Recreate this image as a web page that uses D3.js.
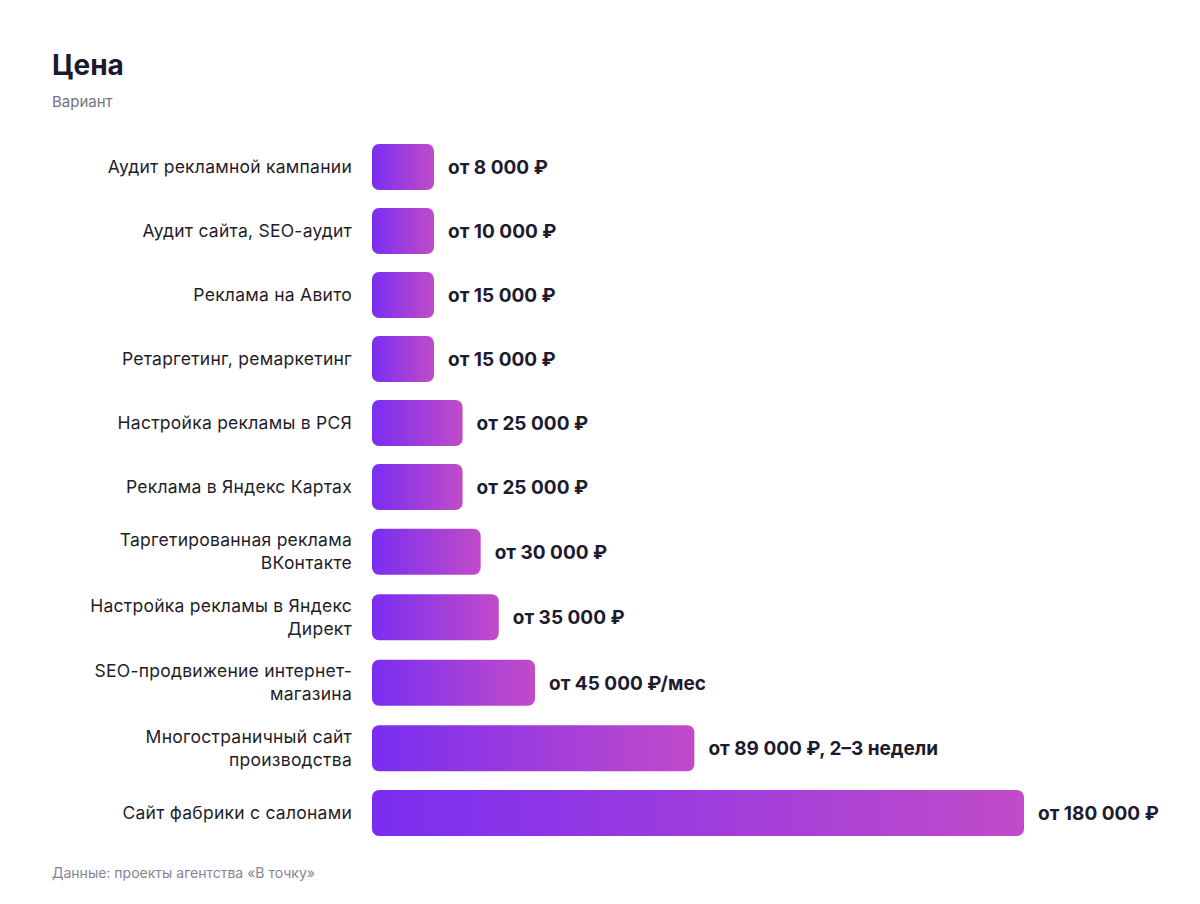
<!DOCTYPE html>
<meta charset="utf-8">
<style>
  body { margin: 0; background: #fff; }
  svg { font-family: Inter, "Liberation Sans", Arial, sans-serif; }
  .label { font-size: 17.5px; letter-spacing: 0.25px; fill: #1f1d2b; }
  .value { font-size: 19px; font-weight: bold; fill: #1d1b2f; }
</style>
<svg width="1200" height="904"></svg>
<script src="https://cdn.jsdelivr.net/npm/d3@7"></script>
<script>

// categories (label lines as drawn in the chart)
var services = [
  ["Аудит рекламной кампании"],
  ["Аудит сайта, SEO-аудит"],
  ["Реклама на Авито"],
  ["Ретаргетинг, ремаркетинг"],
  ["Настройка рекламы в РСЯ"],
  ["Реклама в Яндекс Картах"],
  ["Таргетированная реклама", "ВКонтакте"],
  ["Настройка рекламы в Яндекс", "Директ"],
  ["SEO-продвижение интернет-", "магазина"],
  ["Многостраничный сайт", "производства"],
  ["Сайт фабрики с салонами"]
];

// prices, rubles ("от ...")
var prices = [8000, 10000, 15000, 15000, 25000, 25000, 30000, 35000, 45000, 89000, 180000];

// text after the ruble sign
var suffixes = ["", "", "", "", "", "", "", "", "/мес", ", 2–3 недели", ""];

var svg = d3.select("svg");

var barLeft = 372, barH = 46, minBar = 62;

var x = d3.scaleLinear().domain([0, d3.max(prices)]).range([0, 652]);

// row centres: rows with two-line labels are a bit taller
var centers = [];
var yy = 167;
services.forEach(function(s, i) {
  if (i > 0) {
    var prev = services[i - 1].length > 1 ? 0.75 : 0;
    var cur = s.length > 1 ? 0.75 : 0;
    yy += 64 + prev + cur;
  }
  centers.push(yy);
});

var fmt = function(v) { return d3.format(",")(v).replace(/,/g, " "); };

var data = services.map(function(s, i) {
  return { lines: s, value: prices[i], suffix: suffixes[i], cy: centers[i] };
});

var defs = svg.append("defs");
var grad = defs.append("linearGradient")
    .attr("id", "barGrad")
    .attr("x1", 0).attr("y1", 0).attr("x2", 1).attr("y2", 0);
grad.append("stop").attr("offset", "0%").attr("stop-color", "#7a2ef1");
grad.append("stop").attr("offset", "100%").attr("stop-color", "#c14bc9");

// title
svg.append("text").attr("x", 52).attr("y", 75)
    .style("font-size", "28px").attr("font-weight", "bold").attr("fill", "#1b1a2c")
    .text("Цена");
svg.append("text").attr("x", 52).attr("y", 107)
    .style("font-size", "15px").attr("fill", "#74728a")
    .text("Вариант");

var rows = svg.append("g").selectAll("g")
  .data(data)
  .enter().append("g");

rows.append("rect")
    .attr("x", barLeft)
    .attr("y", function(d) { return d.cy - barH / 2; })
    .attr("width", function(d) { return Math.max(minBar, x(d.value)); })
    .attr("height", barH)
    .attr("rx", 7).attr("ry", 7)
    .attr("fill", "url(#barGrad)");

rows.append("text")
    .attr("class", "label")
    .attr("text-anchor", "end")
    .each(function(d) {
      var t = d3.select(this);
      var n = d.lines.length;
      d.lines.forEach(function(line, j) {
        t.append("tspan")
          .attr("x", 352)
          .attr("y", d.cy + 6 + (j - (n - 1) / 2) * 23)
          .text(line);
      });
    });

rows.append("text")
    .attr("class", "value")
    .attr("x", function(d) { return barLeft + Math.max(minBar, x(d.value)) + 14; })
    .attr("y", function(d) { return d.cy + 7; })
    .text(function(d) { return "от " + fmt(d.value) + " ₽" + d.suffix; });

// footer
svg.append("text").attr("x", 52).attr("y", 878)
    .style("font-size", "14px").attr("fill", "#85839a")
    .text("Данные: проекты агентства «В точку»");

</script>
